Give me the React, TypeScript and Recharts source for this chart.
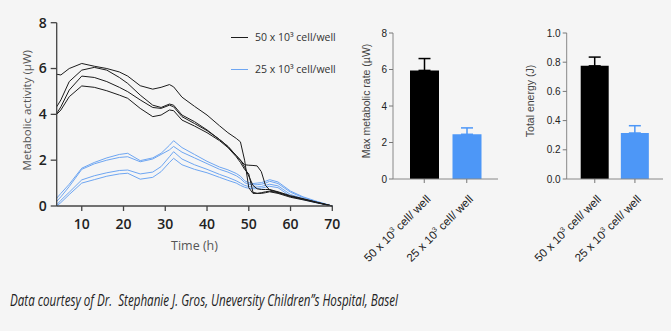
import { LineChart, Line, XAxis, YAxis, BarChart, Bar, ErrorBar } from "recharts";

// time points (h)
const hours = [4, 5, 7, 10, 13, 16, 19, 21, 24, 27, 29, 31, 32, 34, 37, 40, 43, 45, 47, 48, 49, 50, 51, 52, 53, 54, 55, 57, 60, 63, 66, 70];

// 50 x 10^3 cell/well replicates (µW)
const high1 = [5.75, 5.72, 6.0, 6.22, 6.1, 6.0, 5.85, 5.67, 5.25, 5.1, 5.18, 5.3, 5.2, 4.75, 4.35, 3.97, 3.5, 3.2, 2.95, 2.8, 2.0, 0.8, 0.55, 0.55, 0.58, 0.62, 0.65, 0.58, 0.42, 0.3, 0.17, 0];
const high2 = [4.33, 4.63, 5.43, 5.93, 6.05, 5.93, 5.61, 5.35, 4.84, 4.4, 4.3, 4.45, 4.4, 3.97, 3.68, 3.32, 2.9, 2.6, 2.2, 2.0, 1.8, 1.78, 1.77, 1.75, 1.5, 0.9, 0.7, 0.6, 0.42, 0.3, 0.17, 0];
const high3 = [4.04, 4.33, 5.06, 5.67, 5.61, 5.43, 5.18, 4.99, 4.63, 4.3, 4.26, 4.4, 4.33, 3.9, 3.6, 3.29, 2.9, 2.6, 2.2, 2.0, 1.7, 1.3, 0.9, 0.75, 0.72, 0.72, 0.72, 0.62, 0.45, 0.32, 0.18, 0];
const high4 = [4.0, 4.19, 4.77, 5.24, 5.18, 5.03, 4.84, 4.7, 4.26, 3.9, 3.97, 4.19, 4.16, 3.75, 3.49, 3.2, 2.85, 2.55, 2.15, 1.9, 1.6, 1.4, 0.6, 0.55, 0.55, 0.58, 0.62, 0.55, 0.38, 0.27, 0.15, 0];

// 25 x 10^3 cell/well replicates (µW)
const low1 = [0.34, 0.55, 0.95, 1.65, 1.9, 2.1, 2.25, 2.3, 1.98, 2.1, 2.3, 2.65, 2.85, 2.55, 2.25, 1.95, 1.7, 1.58, 1.42, 1.3, 1.1, 1.02, 0.98, 1.0, 1.02, 1.08, 1.15, 1.05, 0.65, 0.4, 0.22, 0];
const low2 = [0.2, 0.4, 0.85, 1.6, 1.84, 2.0, 2.12, 2.15, 1.93, 2.05, 2.25, 2.45, 2.6, 2.35, 2.1, 1.85, 1.6, 1.48, 1.32, 1.2, 1.02, 0.95, 0.92, 0.93, 0.95, 1.0, 1.08, 0.98, 0.6, 0.37, 0.2, 0];
const low3 = [0.05, 0.25, 0.6, 1.14, 1.32, 1.45, 1.55, 1.57, 1.4, 1.48, 1.72, 2.15, 2.37, 2.05, 1.8, 1.6, 1.38, 1.25, 1.1, 1.0, 0.9, 0.85, 0.82, 0.83, 0.85, 0.9, 0.95, 0.88, 0.5, 0.32, 0.17, 0];
const low4 = [0.0, 0.15, 0.5, 1.0, 1.15, 1.3, 1.4, 1.43, 1.17, 1.25, 1.5, 1.9, 2.08, 1.8, 1.6, 1.45, 1.25, 1.12, 1.0, 0.9, 0.82, 0.77, 0.75, 0.76, 0.78, 0.82, 0.86, 0.8, 0.42, 0.28, 0.15, 0];

const timeTicks = [10, 20, 30, 40, 50, 60, 70];
const activityTicks = [0, 2, 4, 6, 8];

const groups = ["50", "25"];
const maxRate = [5.95, 2.45];
const maxRateErr = [0.65, 0.35];
const rateTicks = [0, 2, 4, 6, 8];
const energy = [0.775, 0.315];
const energyErr = [0.06, 0.05];
const energyTicks = [0, 0.2, 0.4, 0.6, 0.8, 1.0];

const BLACK = "#1c1c1c";
const BLUE_LINE = "#6ea6f2";
const BLUE_BAR = "#4d97f7";
const BG = "#f5f5f5";

const highSeries = [high1, high2, high3, high4];
const lowSeries = [low1, low2, low3, low4];

const lineData = hours.map((h, i) => {
  const row: Record<string, number> = { h };
  highSeries.forEach((s, k) => (row["h" + k] = s[i]));
  lowSeries.forEach((s, k) => (row["l" + k] = s[i]));
  return row;
});

const makeBars = (vals: number[], errs: number[]) => [
  { name: groups[0], black: vals[0], blackErr: [0, errs[0]] },
  { name: groups[1], blue: vals[1], blueErr: [0, errs[1]] },
];
const rateData = makeBars(maxRate, maxRateErr);
const energyData = makeBars(energy, energyErr);

const sans = "'Open Sans', sans-serif";
const arial = "'Liberation Sans', Arial, sans-serif";

function CellTick({ x, y, payload }: any) {
  return (
    <g transform={`translate(${x + 7},${y + 15})`}>
      <text transform="rotate(-45)" textAnchor="end" fontSize={11.5} fill="#222" fontFamily={arial}>
        {payload.value} x 10<tspan dy={-4.5} fontSize={7}>3</tspan>
        <tspan dy={4.5}>{"  cell/ well"}</tspan>
      </text>
    </g>
  );
}

function SmallBars({ data, ticks, domain, label, labelDx, errW, barSize, yW, pad, fmt }: any) {
  return (
    <BarChart
      width={166}
      height={270}
      data={data}
      margin={{ top: 33, right: 8, bottom: 11, left: 0 }}
      barSize={barSize}
    >
      <XAxis
        dataKey="name"
        tick={<CellTick />}
        tickLine={{ stroke: "#777" }}
        tickSize={4}
        axisLine={{ stroke: "#888" }}
        interval={0}
        height={80}
        padding={pad}
      />
      <YAxis
        width={yW}
        domain={domain}
        ticks={ticks}
        tickFormatter={fmt}
        tick={{ fontSize: 10, fill: "#222", fontFamily: arial }}
        tickLine={{ stroke: "#777" }}
        tickSize={4}
        tickMargin={2}
        axisLine={{ stroke: "#888" }}
        label={{
          value: label,
          angle: -90,
          position: "center",
          dx: labelDx,
          dy: -5,
          style: { fontSize: 10.5, fill: "#444", fontFamily: arial },
        }}
      />
      <Bar dataKey="black" stackId="s" fill="#000" isAnimationActive={false}>
        <ErrorBar dataKey="blackErr" width={errW} stroke="#000" strokeWidth={1.5} />
      </Bar>
      <Bar dataKey="blue" stackId="s" fill={BLUE_BAR} isAnimationActive={false}>
        <ErrorBar dataKey="blueErr" width={errW} stroke={BLUE_BAR} strokeWidth={1.5} />
      </Bar>
    </BarChart>
  );
}

export default function App() {
  return (
    <div style={{ position: "absolute", left: 0, top: 0, width: 671, height: 331, background: BG, overflow: "hidden" }}>
      <div style={{ position: "absolute", left: 0, top: 0 }}>
        <LineChart width={345} height={260} data={lineData} margin={{ top: 22.7, right: 12.7, bottom: 10, left: 16.7 }}>
          <XAxis
            dataKey="h"
            type="number"
            domain={[4, 70]}
            ticks={timeTicks}
            tick={{ fontSize: 14, fill: "#222", fontFamily: sans, fontWeight: 600 }}
            tickSize={5}
            tickMargin={8}
            axisLine={{ stroke: "#444", strokeWidth: 1.3 }}
            tickLine={{ stroke: "#444", strokeWidth: 1.3 }}
            height={44}
            label={{ value: "Time (h)", position: "insideBottom", offset: 0, style: { fontSize: 12.5, fill: "#555", fontFamily: sans } }}
          />
          <YAxis
            width={40}
            domain={[0, 8]}
            ticks={activityTicks}
            tick={{ fontSize: 14, fill: "#222", fontFamily: sans, fontWeight: 600 }}
            tickSize={6}
            tickMargin={4}
            axisLine={{ stroke: "#444", strokeWidth: 1.3 }}
            tickLine={{ stroke: "#444", strokeWidth: 1.3 }}
            label={{
              value: "Metabolic activity (µW)",
              angle: -90,
              position: "center",
              dx: -10,
              dy: -4,
              style: { fontSize: 11.5, fill: "#555", fontFamily: sans },
            }}
          />
          {lowSeries.map((_, k) => (
            <Line key={"l" + k} dataKey={"l" + k} type="linear" stroke={BLUE_LINE} strokeWidth={1} dot={false} isAnimationActive={false} />
          ))}
          {highSeries.map((_, k) => (
            <Line key={"h" + k} dataKey={"h" + k} type="linear" stroke={BLACK} strokeWidth={1} dot={false} isAnimationActive={false} />
          ))}
        </LineChart>
      </div>

      {/* legend */}
      <div style={{ position: "absolute", left: 231, top: 30, fontFamily: sans, fontSize: 10.5, color: "#333", lineHeight: "14px" }}>
        <div style={{ display: "flex", alignItems: "center", height: 14 }}>
          <span style={{ width: 17, height: 1, background: BLACK, marginRight: 7 }} />
          <span>50 x 10³ cell/well</span>
        </div>
        <div style={{ display: "flex", alignItems: "center", height: 14, marginTop: 18 }}>
          <span style={{ width: 17, height: 1, background: BLUE_LINE, marginRight: 7 }} />
          <span>25 x 10³ cell/well</span>
        </div>
      </div>

      <div style={{ position: "absolute", left: 340, top: 0 }}>
        <SmallBars
          data={rateData}
          ticks={rateTicks}
          domain={[0, 8]}
          label="Max metabolic rate (µW)"
          labelDx={0}
          errW={6}
          barSize={29}
          yW={53}
          pad={{ left: 10, right: 10 }}
        />
      </div>
      <div style={{ position: "absolute", left: 505, top: 0 }}>
        <SmallBars
          data={energyData}
          ticks={energyTicks}
          domain={[0, 1]}
          label="Total energy (J)"
          labelDx={-6}
          errW={6}
          barSize={28}
          yW={61.7}
          pad={{ left: 8, right: 8 }}
          fmt={(v: number) => v.toFixed(1)}
        />
      </div>

      <svg style={{ position: "absolute", left: 0, top: 0 }} width={671} height={331}>
        <text
          x={10}
          y={306}
          fontSize={17}
          fontStyle="italic"
          fontWeight={500}
          fontFamily={sans}
          fill="#222"
          textLength={388}
          lengthAdjust="spacingAndGlyphs"
          style={{ whiteSpace: "pre" }}
        >
          {"Data courtesy of Dr.  Stephanie J. Gros, Uneversity Children”s Hospital, Basel"}
        </text>
      </svg>
    </div>
  );
}
